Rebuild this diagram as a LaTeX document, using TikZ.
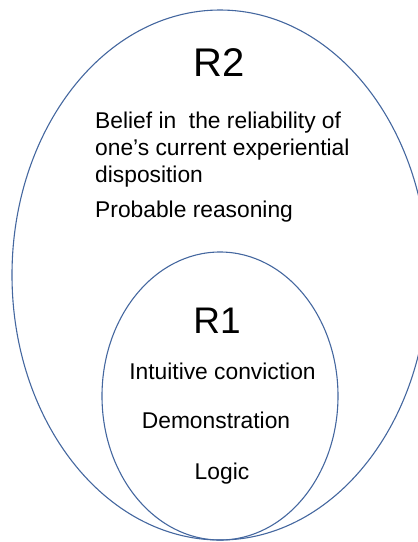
\documentclass[tikz,border=0pt]{standalone}
\usepackage{fontspec}
\setmainfont{Liberation Sans}
\usepackage{xcolor}
\definecolor{ringblue}{HTML}{44679F}

\begin{document}
\begin{tikzpicture}[x=1pt, y=-1pt,
    region/.style={draw=ringblue, line width=1.1pt},
    head/.style={font=\fontsize{40}{48}\selectfont, inner sep=0pt, anchor=base},
    item/.style={font=\fontsize{22.8}{27}\selectfont, inner sep=0pt, anchor=base},
    line/.style={font=\fontsize{22.8}{27}\selectfont, inner sep=0pt, anchor=base west}
    ]
    \useasboundingbox (0,0) rectangle (418,542);

    % regions
    \draw[region] (220,275) ellipse [x radius=208, y radius=265];
    \draw[region] (220,396) ellipse [x radius=118, y radius=144];

    % outer region
    \node[head] (r2) at (219.5,76) {R2};
    \node[line] (belief1) at (95,128) {Belief in\ \ the reliability of};
    \node[line] (belief2) at (95,155) {one’s current experiential};
    \node[line] (belief3) at (95,182) {disposition};
    \node[line] (probable) at (95,217) {Probable reasoning};

    % inner region
    \node[head, font=\fontsize{37}{44}\selectfont] (r1) at (217,333) {R1};
    \node[item] (intuitive) at (222.5,379) {Intuitive conviction};
    \node[item] (demo) at (216,428) {Demonstration};
    \node[item] (logic) at (222,479) {Logic};
\end{tikzpicture}
\end{document}
